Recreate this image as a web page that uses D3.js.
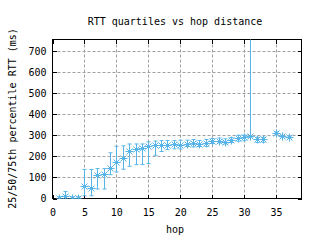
<!DOCTYPE html>
<html>
<head>
<meta charset="utf-8">
<script src="https://cdn.jsdelivr.net/npm/d3@7"></script>
<style>
  body { margin: 0; background: #fff; }
  text { font-family: "DejaVu Sans Mono", monospace; font-size: 10px; fill: #000; }
</style>
</head>
<body>
<div id="chart"></div>
<script>
// hop distance and RTT quartiles (ms), hop 34 has no data
const hops = [1, 2, 3, 4, 5, 6, 7, 8, 9, 10, 11, 12, 13, 14, 15, 16, 17, 18, 19, 20,
  21, 22, 23, 24, 25, 26, 27, 28, 29, 30, 31, 32, 33, 35, 36, 37];
const q50 = [3, 10, 3, 3, 58, 51, 111, 115, 146, 171, 191, 226, 234, 239, 248, 253, 256, 256, 257, 256,
  260, 262, 258, 262, 272, 275, 270, 278, 289, 290, 299, 282, 282, 311, 296, 292];
const q25 = [0, 0, 0, 0, 13, 13, 45, 45, 113, 126, 139, 153, 161, 161, 166, 205, 223, 232, 236, 235,
  247, 245, 247, 247, 261, 264, 259, 266, 272, 274, 290, 266, 267, 305, 291, 287];
const q75 = [8, 33, 8, 8, 138, 138, 142, 142, 217, 248, 250, 259, 259, 259, 269, 273, 275, 276, 275, 277,
  277, 280, 276, 280, 285, 287, 283, 289, 300, 301, 1500, 291, 291, 316, 300, 296];
const xTicks = [0, 5, 10, 15, 20, 25, 30, 35];
const yTicks = [0, 100, 200, 300, 400, 500, 600, 700];

const width = 320, height = 240;
const margin = { top: 39, right: 18, bottom: 42, left: 52 };
const color = "#56b4e9";

const xScale = d3.scaleLinear()
  .domain([0, 39])
  .range([margin.left + 0.5, width - margin.right - 0.5]);

const yScale = d3.scaleLinear()
  .domain([0, 755])
  .range([height - margin.bottom + 0.5, margin.top + 0.5]);

const svg = d3.select("#chart").append("svg")
  .attr("width", width)
  .attr("height", height)
  .style("display", "block");

const x0 = xScale.range()[0], x1 = xScale.range()[1];
const y0 = yScale.range()[0], y1 = yScale.range()[1];

// dashed grid
svg.append("g")
  .selectAll("line")
  .data(xTicks.filter(d => d > 0))
  .join("line")
  .attr("x1", d => Math.round(xScale(d)) + 0.5)
  .attr("x2", d => Math.round(xScale(d)) + 0.5)
  .attr("y1", y1).attr("y2", y0)
  .attr("stroke", "#a0a0a0")
  .attr("stroke-dasharray", "3,2");

svg.append("g")
  .selectAll("line")
  .data(yTicks.filter(d => d > 0))
  .join("line")
  .attr("y1", d => Math.round(yScale(d)) + 0.5)
  .attr("y2", d => Math.round(yScale(d)) + 0.5)
  .attr("x1", x0).attr("x2", x1)
  .attr("stroke", "#a0a0a0")
  .attr("stroke-dasharray", "3,2");

// axes with inward ticks (gnuplot style), mirrored on top/right
const axisStyle = g => {
  g.select(".domain").remove();
  g.selectAll(".tick line").attr("stroke", "#000").attr("shape-rendering", "crispEdges");
  g.selectAll(".tick text").attr("font-family", null).attr("font-size", null);
};

svg.append("g")
  .attr("transform", `translate(0,${y0})`)
  .call(d3.axisBottom(xScale).tickValues(xTicks).tickSize(-4).tickPadding(10))
  .call(axisStyle);

svg.append("g")
  .attr("transform", `translate(0,${y1})`)
  .call(d3.axisTop(xScale).tickValues(xTicks).tickSize(-4).tickFormat(""))
  .call(axisStyle);

svg.append("g")
  .attr("transform", `translate(${x0},0)`)
  .call(d3.axisLeft(yScale).tickValues(yTicks).tickSize(-4).tickPadding(6))
  .call(axisStyle);

svg.append("g")
  .attr("transform", `translate(${x1},0)`)
  .call(d3.axisRight(yScale).tickValues(yTicks).tickSize(-4).tickFormat(""))
  .call(axisStyle);

// border
svg.append("rect")
  .attr("x", x0).attr("y", y1)
  .attr("width", x1 - x0).attr("height", y0 - y1)
  .attr("fill", "none")
  .attr("stroke", "#000");

svg.append("clipPath").attr("id", "plotclip")
  .append("rect")
  .attr("x", x0).attr("y", y1)
  .attr("width", x1 - x0).attr("height", y0 - y1);

const data = hops.map((h, i) => ({ hop: h, lo: q25[i], mid: q50[i], hi: q75[i] }));

const plot = svg.append("g").attr("clip-path", "url(#plotclip)");

// error bars 25th - 75th
plot.append("g")
  .selectAll("path")
  .data(data)
  .join("path")
  .attr("d", d => {
    const x = Math.round(xScale(d.hop)) + 0.5;
    const ylo = yScale(d.lo), yhi = yScale(d.hi);
    return `M${x},${ylo}V${yhi}M${x - 2},${ylo}H${x + 2}M${x - 2},${yhi}H${x + 2}`;
  })
  .attr("fill", "none")
  .attr("stroke", color)
  .attr("stroke-width", 1);

// median as star markers
plot.append("g")
  .selectAll("path")
  .data(data)
  .join("path")
  .attr("transform", d => `translate(${Math.round(xScale(d.hop)) + 0.5},${Math.round(yScale(d.mid)) + 0.5})`)
  .attr("d", "M-4,0H4M0,-4V4M-3,-3L3,3M-3,3L3,-3")
  .attr("fill", "none")
  .attr("stroke", color)
  .attr("stroke-width", 1);

// title and labels
svg.append("text")
  .attr("x", 175).attr("y", 24.5)
  .attr("text-anchor", "middle")
  .text("RTT quartiles vs hop distance");

svg.append("text")
  .attr("x", 175).attr("y", 233)
  .attr("text-anchor", "middle")
  .text("hop");

svg.append("text")
  .attr("transform", "translate(15.5,118.5) rotate(-90)")
  .attr("text-anchor", "middle")
  .text("25/50/75th percentile RTT (ms)");
</script>
</body>
</html>
